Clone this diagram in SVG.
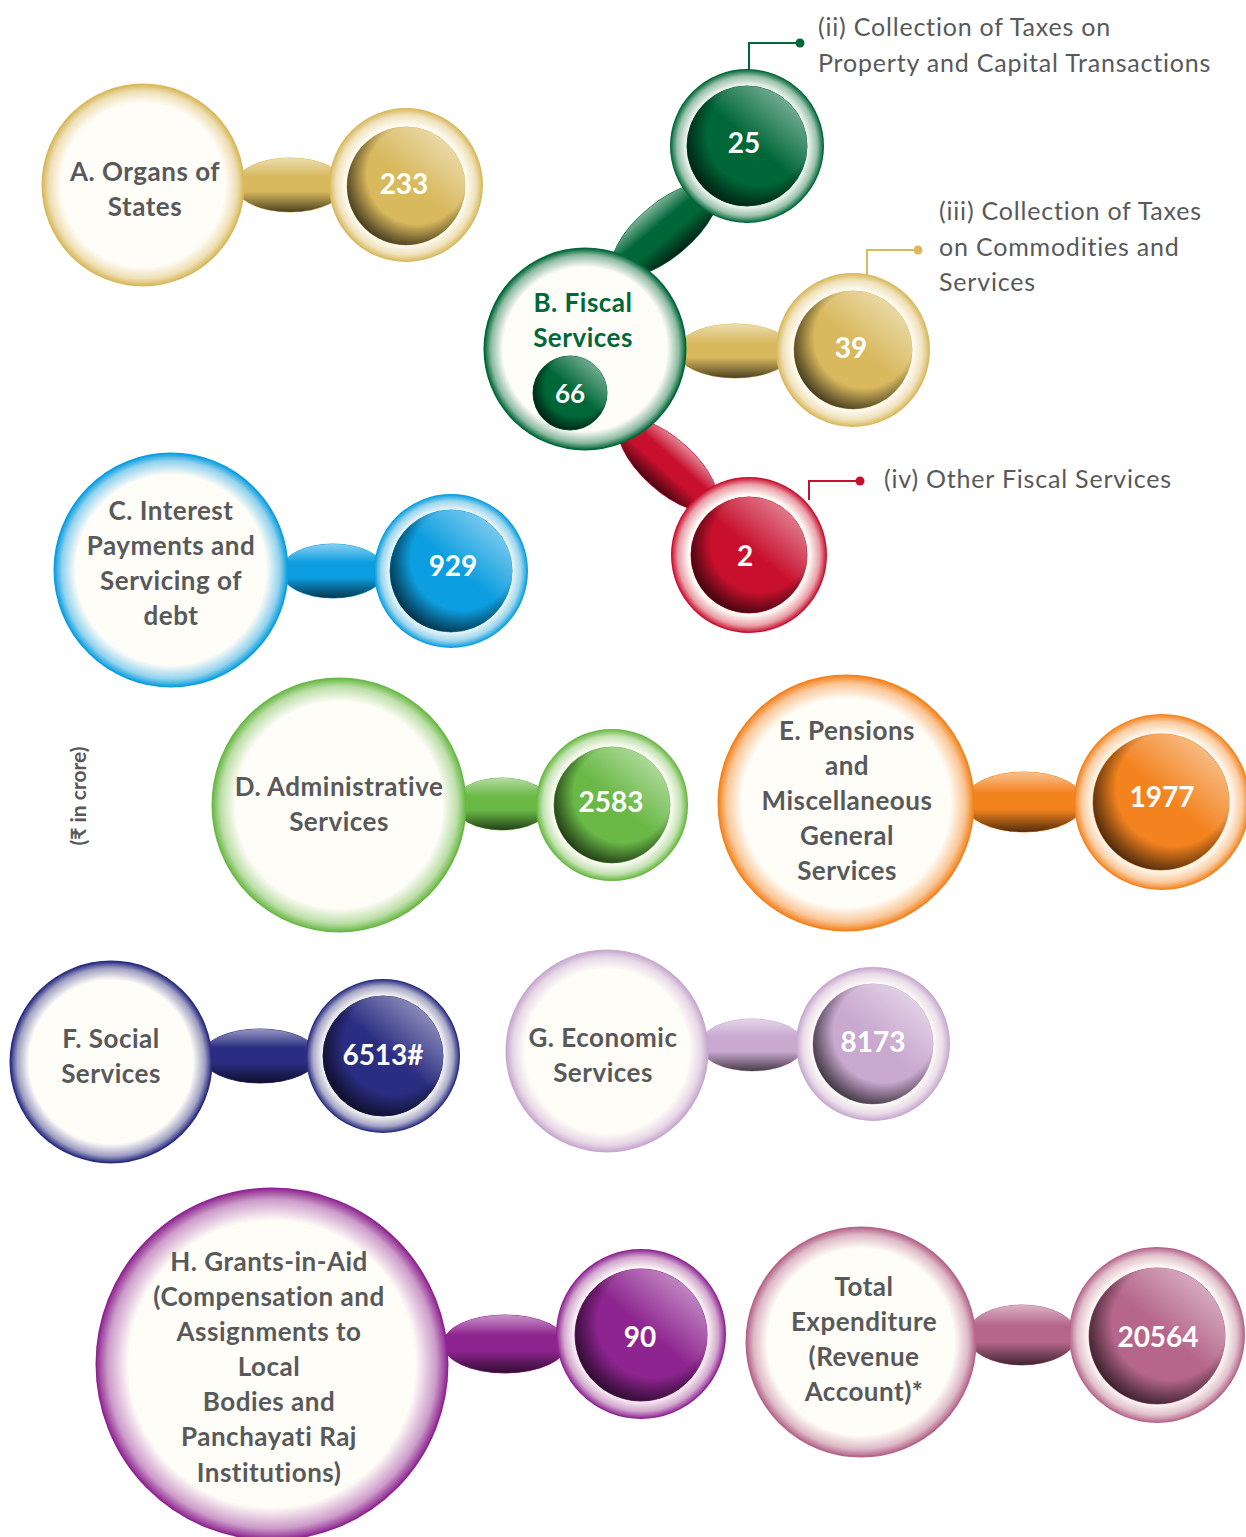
<svg xmlns="http://www.w3.org/2000/svg" width="1246" height="1537" viewBox="0 0 1246 1537">
<defs>
<radialGradient id="gBig" cx="0.5" cy="0.5" r="0.5">
<stop offset="0" stop-color="#fffdf8" stop-opacity="1"/>
<stop offset="0.82" stop-color="#fffdf8" stop-opacity="1"/>
<stop offset="0.94" stop-color="#fffdf8" stop-opacity="0.55"/>
<stop offset="1" stop-color="#fffdf8" stop-opacity="0.05"/>
</radialGradient>
<radialGradient id="gRing" cx="0.5" cy="0.5" r="0.5">
<stop offset="0" stop-color="#fffdf8" stop-opacity="1"/>
<stop offset="0.78" stop-color="#fffdf8" stop-opacity="1"/>
<stop offset="0.92" stop-color="#fffdf8" stop-opacity="0.6"/>
<stop offset="1" stop-color="#fffdf8" stop-opacity="0.05"/>
</radialGradient>
<radialGradient id="gDisc" cx="0.58" cy="0.42" r="0.62" fx="0.62" fy="0.36">
<stop offset="0" stop-color="#000" stop-opacity="0"/>
<stop offset="0.68" stop-color="#000" stop-opacity="0"/>
<stop offset="0.88" stop-color="#000" stop-opacity="0.45"/>
<stop offset="1" stop-color="#000" stop-opacity="0.7"/>
</radialGradient>
<linearGradient id="gHi" x1="0.7" y1="0" x2="0.4" y2="0.35">
<stop offset="0" stop-color="#fff" stop-opacity="0.45"/>
<stop offset="1" stop-color="#fff" stop-opacity="0"/>
</linearGradient>
<linearGradient id="gConn" x1="0" y1="0" x2="0" y2="1">
<stop offset="0" stop-color="#fff" stop-opacity="0.5"/>
<stop offset="0.35" stop-color="#fff" stop-opacity="0"/>
<stop offset="0.62" stop-color="#000" stop-opacity="0"/>
<stop offset="1" stop-color="#000" stop-opacity="0.65"/>
</linearGradient>
<style>
.lbl{font-family:Lato,"Open Sans","Liberation Sans",sans-serif;font-weight:bold;font-size:26px;letter-spacing:0.5px;fill:#58595b;text-anchor:middle}
.num{font-family:Lato,"Open Sans","Liberation Sans",sans-serif;font-weight:bold;font-size:28px;fill:#ffffff;text-anchor:middle}
.ann{font-family:Lato,"Open Sans","Liberation Sans",sans-serif;font-size:25px;letter-spacing:0.8px;fill:#58595b}
.big{stroke-width:3}
.ring{stroke-width:2}
.ov-big{fill:url(#gBig)}
.ov-ring{fill:url(#gRing)}
.ov-disc{fill:url(#gDisc)}
.ov-hi{fill:url(#gHi)}
.ov-conn{fill:url(#gConn)}
.gold{fill:#d9b95e;stroke:#d9b95e}
.dgreen{fill:#006838;stroke:#006838}
.red{fill:#c8102e;stroke:#c8102e}
.blue{fill:#0c9ee0;stroke:#0c9ee0}
.lgreen{fill:#6ab946;stroke:#6ab946}
.orange{fill:#f3831f;stroke:#f3831f}
.navy{fill:#2b2d82;stroke:#2b2d82}
.lav{fill:#c9a9d0;stroke:#c9a9d0}
.purple{fill:#8e2490;stroke:#8e2490}
.mauve{fill:#b5668a;stroke:#b5668a}
.lead{fill:none;stroke-width:2}
</style>
</defs>
<rect width="1246" height="1537" fill="#ffffff"/>

<g id="connectors">
<g><ellipse cx="290" cy="185" rx="55" ry="27" class="gold" stroke="none"/><ellipse cx="290" cy="185" rx="55" ry="27" class="ov-conn"/></g>
<g transform="rotate(-40 665 230)"><ellipse cx="665" cy="230" rx="65" ry="27" class="dgreen" stroke="none"/><ellipse cx="665" cy="230" rx="65" ry="27" class="ov-conn"/></g>
<g><ellipse cx="735" cy="351" rx="58" ry="27" class="gold" stroke="none"/><ellipse cx="735" cy="351" rx="58" ry="27" class="ov-conn"/></g>
<g transform="rotate(42 668 465)"><ellipse cx="668" cy="465" rx="62" ry="26" class="red" stroke="none"/><ellipse cx="668" cy="465" rx="62" ry="26" class="ov-conn"/></g>
<g><ellipse cx="333" cy="571" rx="52" ry="27" class="blue" stroke="none"/><ellipse cx="333" cy="571" rx="52" ry="27" class="ov-conn"/></g>
<g><ellipse cx="502" cy="804" rx="48" ry="26" class="lgreen" stroke="none"/><ellipse cx="502" cy="804" rx="48" ry="26" class="ov-conn"/></g>
<g><ellipse cx="1024" cy="802" rx="60" ry="30" class="orange" stroke="none"/><ellipse cx="1024" cy="802" rx="60" ry="30" class="ov-conn"/></g>
<g><ellipse cx="260" cy="1056" rx="58" ry="27" class="navy" stroke="none"/><ellipse cx="260" cy="1056" rx="58" ry="27" class="ov-conn"/></g>
<g><ellipse cx="752" cy="1045" rx="52" ry="26" class="lav" stroke="none"/><ellipse cx="752" cy="1045" rx="52" ry="26" class="ov-conn"/></g>
<g><ellipse cx="505" cy="1344" rx="62" ry="29" class="purple" stroke="none"/><ellipse cx="505" cy="1344" rx="62" ry="29" class="ov-conn"/></g>
<g><ellipse cx="1022" cy="1335" rx="55" ry="30" class="mauve" stroke="none"/><ellipse cx="1022" cy="1335" rx="55" ry="30" class="ov-conn"/></g>
<path d="M749 70 V43 H800" class="lead" stroke="#006838"/><circle cx="800" cy="43" r="4.5" fill="#006838"/>
<path d="M867 275 V250 H918" class="lead" stroke="#d9b95e"/><circle cx="918" cy="250" r="4.5" fill="#d9b95e"/>
<path d="M809 500 V481 H860" class="lead" stroke="#c8102e"/><circle cx="860" cy="481" r="4.5" fill="#c8102e"/>
</g>

<g id="node-A">
<circle cx="143" cy="185" r="100" class="gold big"/><circle cx="143" cy="185" r="100" class="ov-big"/>
<text class="lbl" x="145" y="181">A. Organs of</text><text class="lbl" x="145" y="216">States</text>
</g>
<g id="node-A-val">
<circle cx="406" cy="185" r="76" class="gold ring"/><circle cx="406" cy="185" r="76" class="ov-ring"/>
<circle cx="406" cy="186" r="59" class="gold" stroke="none"/><circle cx="406" cy="186" r="59" class="ov-disc"/><circle cx="406" cy="186" r="59" class="ov-hi"/>
<text class="num" x="404" y="194">233</text>
</g>

<g id="node-B">
<circle cx="585" cy="349" r="100" class="dgreen big"/><circle cx="585" cy="349" r="100" class="ov-big"/>
<text class="lbl" x="583" y="312" style="fill:#006838">B. Fiscal</text><text class="lbl" x="583" y="347" style="fill:#006838">Services</text>
<circle cx="570" cy="393" r="37" class="dgreen" stroke="none"/><circle cx="570" cy="393" r="37" class="ov-disc"/><circle cx="570" cy="393" r="37" class="ov-hi"/>
<text class="num" x="570" y="403" style="font-size:26px">66</text>
</g>
<g id="node-B-ii">
<circle cx="747" cy="146" r="76" class="dgreen ring"/><circle cx="747" cy="146" r="76" class="ov-ring"/>
<circle cx="747" cy="146" r="60" class="dgreen" stroke="none"/><circle cx="747" cy="146" r="60" class="ov-disc"/><circle cx="747" cy="146" r="60" class="ov-hi"/>
<text class="num" x="744" y="153">25</text>
</g>
<g id="node-B-iii">
<circle cx="853" cy="350" r="76" class="gold ring"/><circle cx="853" cy="350" r="76" class="ov-ring"/>
<circle cx="853" cy="350" r="59" class="gold" stroke="none"/><circle cx="853" cy="350" r="59" class="ov-disc"/><circle cx="853" cy="350" r="59" class="ov-hi"/>
<text class="num" x="851" y="358">39</text>
</g>
<g id="node-B-iv">
<circle cx="749" cy="555" r="77" class="red ring"/><circle cx="749" cy="555" r="77" class="ov-ring"/>
<circle cx="749" cy="555" r="58" class="red" stroke="none"/><circle cx="749" cy="555" r="58" class="ov-disc"/><circle cx="749" cy="555" r="58" class="ov-hi"/>
<text class="num" x="745" y="566">2</text>
</g>
<g id="ann-ii"><text class="ann" x="818" y="36">(ii) Collection of Taxes on</text><text class="ann" x="818" y="72">Property and Capital Transactions</text></g>
<g id="ann-iii"><text class="ann" x="939" y="220">(iii) Collection of Taxes</text><text class="ann" x="939" y="256">on Commodities and</text><text class="ann" x="939" y="291">Services</text></g>
<g id="ann-iv"><text class="ann" x="884" y="488">(iv) Other Fiscal Services</text></g>

<g id="node-C">
<circle cx="171" cy="570" r="116" class="blue big"/><circle cx="171" cy="570" r="116" class="ov-big"/>
<text class="lbl" x="171" y="520">C. Interest</text><text class="lbl" x="171" y="555">Payments and</text><text class="lbl" x="171" y="590">Servicing of</text><text class="lbl" x="171" y="625">debt</text>
</g>
<g id="node-C-val">
<circle cx="451" cy="571" r="76" class="blue ring"/><circle cx="451" cy="571" r="76" class="ov-ring"/>
<circle cx="451" cy="571" r="61" class="blue" stroke="none"/><circle cx="451" cy="571" r="61" class="ov-disc"/><circle cx="451" cy="571" r="61" class="ov-hi"/>
<text class="num" x="453" y="576">929</text>
</g>

<text x="86" y="796" transform="rotate(-90 86 796)" style="font-family:Lato,'DejaVu Sans',sans-serif;font-weight:bold;font-size:21px;fill:#58595b;text-anchor:middle">(₹ in crore)</text>

<g id="node-D">
<circle cx="339" cy="805" r="126" class="lgreen big"/><circle cx="339" cy="805" r="126" class="ov-big"/>
<text class="lbl" x="339" y="796">D. Administrative</text><text class="lbl" x="339" y="831">Services</text>
</g>
<g id="node-D-val">
<circle cx="612" cy="805" r="75" class="lgreen ring"/><circle cx="612" cy="805" r="75" class="ov-ring"/>
<circle cx="612" cy="805" r="58" class="lgreen" stroke="none"/><circle cx="612" cy="805" r="58" class="ov-disc"/><circle cx="612" cy="805" r="58" class="ov-hi"/>
<text class="num" x="611" y="812">2583</text>
</g>

<g id="node-E">
<circle cx="846" cy="803" r="127" class="orange big"/><circle cx="846" cy="803" r="127" class="ov-big"/>
<text class="lbl" x="847" y="740">E. Pensions</text><text class="lbl" x="847" y="775">and</text><text class="lbl" x="847" y="810">Miscellaneous</text><text class="lbl" x="847" y="845">General</text><text class="lbl" x="847" y="880">Services</text>
</g>
<g id="node-E-val">
<circle cx="1162" cy="802" r="87" class="orange ring"/><circle cx="1162" cy="802" r="87" class="ov-ring"/>
<circle cx="1161" cy="802" r="68" class="orange" stroke="none"/><circle cx="1161" cy="802" r="68" class="ov-disc"/><circle cx="1161" cy="802" r="68" class="ov-hi"/>
<text class="num" x="1162" y="807">1977</text>
</g>

<g id="node-F">
<circle cx="111" cy="1062" r="100" class="navy big"/><circle cx="111" cy="1062" r="100" class="ov-big"/>
<text class="lbl" x="111" y="1048">F. Social</text><text class="lbl" x="111" y="1083">Services</text>
</g>
<g id="node-F-val">
<circle cx="383" cy="1056" r="76" class="navy ring"/><circle cx="383" cy="1056" r="76" class="ov-ring"/>
<circle cx="383" cy="1056" r="60" class="navy" stroke="none"/><circle cx="383" cy="1056" r="60" class="ov-disc"/><circle cx="383" cy="1056" r="60" class="ov-hi"/>
<text class="num" x="383" y="1065">6513#</text>
</g>

<g id="node-G">
<circle cx="607" cy="1051" r="100" class="lav big"/><circle cx="607" cy="1051" r="100" class="ov-big"/>
<text class="lbl" x="603" y="1047">G. Economic</text><text class="lbl" x="603" y="1082">Services</text>
</g>
<g id="node-G-val">
<circle cx="873" cy="1044" r="76" class="lav ring"/><circle cx="873" cy="1044" r="76" class="ov-ring"/>
<circle cx="873" cy="1044" r="60" class="lav" stroke="none"/><circle cx="873" cy="1044" r="60" class="ov-disc"/><circle cx="873" cy="1044" r="60" class="ov-hi"/>
<text class="num" x="873" y="1052">8173</text>
</g>

<g id="node-H">
<circle cx="272" cy="1364" r="175" class="purple big"/><circle cx="272" cy="1364" r="175" class="ov-big"/>
<text class="lbl" x="269" y="1271">H. Grants-in-Aid</text><text class="lbl" x="269" y="1306">(Compensation and</text><text class="lbl" x="269" y="1341">Assignments to</text><text class="lbl" x="269" y="1376">Local</text><text class="lbl" x="269" y="1411">Bodies and</text><text class="lbl" x="269" y="1446">Panchayati Raj</text><text class="lbl" x="269" y="1482">Institutions)</text>
</g>
<g id="node-H-val">
<circle cx="641" cy="1334" r="84" class="purple ring"/><circle cx="641" cy="1334" r="84" class="ov-ring"/>
<circle cx="641" cy="1335" r="66" class="purple" stroke="none"/><circle cx="641" cy="1335" r="66" class="ov-disc"/><circle cx="641" cy="1335" r="66" class="ov-hi"/>
<text class="num" x="640" y="1347">90</text>
</g>

<g id="node-Total">
<circle cx="861" cy="1342" r="114" class="mauve big"/><circle cx="861" cy="1342" r="114" class="ov-big"/>
<text class="lbl" x="864" y="1296">Total</text><text class="lbl" x="864" y="1331">Expenditure</text><text class="lbl" x="864" y="1366">(Revenue</text><text class="lbl" x="864" y="1401">Account)*</text>
</g>
<g id="node-Total-val">
<circle cx="1157" cy="1335" r="87" class="mauve ring"/><circle cx="1157" cy="1335" r="87" class="ov-ring"/>
<circle cx="1157" cy="1336" r="68" class="mauve" stroke="none"/><circle cx="1157" cy="1336" r="68" class="ov-disc"/><circle cx="1157" cy="1336" r="68" class="ov-hi"/>
<text class="num" x="1158" y="1347">20564</text>
</g>
</svg>
